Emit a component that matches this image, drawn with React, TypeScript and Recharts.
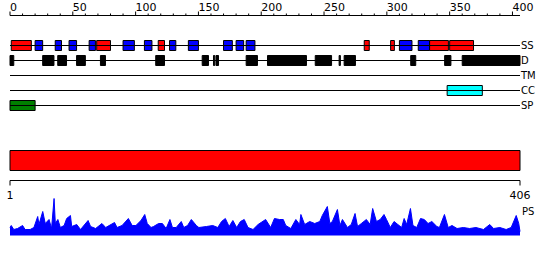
import { ComposedChart, AreaChart, Area, Line, XAxis, YAxis, ReferenceLine, ReferenceArea } from 'recharts';

const FONT = 'DejaVu Sans';

// protein length and ruler
const seqLength = 406;
const rulerTicks = [
  0, 10, 20, 30, 40, 50, 60, 70, 80, 90, 100, 110, 120, 130, 140, 150, 160, 170, 180, 190, 200,
  210, 220, 230, 240, 250, 260, 270, 280, 290, 300, 310, 320, 330, 340, 350, 360, 370, 380, 390, 400,
];
const lengthTicks = [1, 406];

const rowNames = ['SS', 'D', 'TM', 'CC', 'SP'];

// secondary structure: helix (red) and strand (blue)
const helix = [
  [1, 17], [69, 80], [118, 123], [282, 286], [303, 306], [334, 349], [350, 369],
];
const strand = [
  [20, 26], [36, 41], [47, 53], [63, 68], [90, 99], [107, 113], [127, 132], [142, 150],
  [170, 177], [180, 186], [188, 195], [310, 320], [325, 334],
];
// disorder
const disorder = [
  [0, 3], [26, 35], [38, 45], [53, 60], [72, 76], [116, 123], [153, 158], [162, 163],
  [164, 166], [188, 197], [205, 236], [243, 256], [262, 263], [266, 275], [319, 323],
  [346, 351], [360, 406],
];
const transmembrane: number[][] = [];
const coiledCoil = [[348, 376]];
const signalPeptide = [[0, 20]];

// PS profile
const psPos = [
  1, 2, 4, 7, 11, 13, 17, 20, 23, 24, 27, 29, 32, 34, 36, 37, 39, 41, 44, 46, 49, 50, 54, 57,
  63, 65, 69, 74, 77, 84, 86, 90, 95, 98, 101, 105, 108, 110, 113, 115, 119, 122, 125, 128,
  130, 133, 137, 139, 142, 145, 149, 151, 157, 162, 166, 169, 172, 175, 178, 181, 184, 187,
  190, 194, 198, 204, 208, 211, 215, 218, 220, 224, 228, 231, 232, 235, 239, 243, 247, 249,
  253, 255, 257, 261, 263, 265, 269, 272, 275, 277, 280, 284, 287, 289, 292, 295, 298, 300,
  303, 306, 309, 312, 314, 316, 319, 321, 324, 327, 330, 333, 336, 340, 342, 346, 349, 352,
  356, 361, 366, 371, 377, 382, 385, 390, 395, 399, 403, 405, 406,
];
const psVal = [
  8, 10, 6, 7, 10, 6, 6, 8, 19, 11, 24, 12, 16, 7, 37, 12, 16, 8, 10, 17, 20, 9, 11, 6,
  15, 9, 7, 12, 8, 13, 8, 10, 17, 10, 10, 15, 21, 12, 8, 9, 12, 12, 7, 16,
  8, 8, 14, 8, 10, 16, 10, 8, 9, 10, 8, 14, 17, 9, 15, 8, 14, 16,
  8, 6, 11, 16, 8, 17, 16, 16, 10, 7, 16, 11, 21, 11, 14, 12, 14, 20,
  29, 12, 14, 26, 10, 16, 8, 11, 22, 9, 12, 16, 11, 27, 14, 16, 21, 16,
  8, 14, 11, 8, 17, 11, 27, 10, 8, 17, 16, 12, 14, 9, 8, 21, 8, 10,
  7, 8, 7, 8, 6, 11, 7, 8, 6, 8, 20, 12, 4,
];

const featureRows = [
  { ranges: helix, row: 0, color: '#ff0000' },
  { ranges: strand, row: 0, color: '#0000ff' },
  { ranges: disorder, row: 1, color: '#000000' },
  { ranges: transmembrane, row: 2, color: '#ffff00' },
  { ranges: coiledCoil, row: 3, color: '#00ffff' },
  { ranges: signalPeptide, row: 4, color: '#008000' },
];

const psData = psPos.map((p, i) => ({ pos: p, ps: psVal[i] }));

const RulerTick = (props: any) => {
  const { x, y, payload } = props;
  const major = payload.value % 50 === 0;
  return (
    <g>
      <line x1={x} y1={y} x2={x} y2={y - (major ? 4 : 2)} stroke="#000" />
      {major && (
        <text x={x} y={y - 5} fontSize={11} fontFamily={FONT} textAnchor="start" fill="#000">
          {payload.value}
        </text>
      )}
    </g>
  );
};

const labelStyle = { fontSize: 10, fill: '#000', fontFamily: FONT };

export default function App() {
  return (
    <div style={{ position: 'absolute', left: 0, top: 0, width: 550, height: 260, background: '#fff' }}>
      {/* feature rows */}
      <div style={{ position: 'absolute', left: 0, top: 0 }}>
        <ComposedChart width={550} height={121} margin={{ top: 0.5, right: 30, bottom: 0.5, left: 10 }}>
          <XAxis
            xAxisId="r"
            dataKey="pos"
            type="number"
            orientation="top"
            domain={[0, seqLength]}
            ticks={rulerTicks}
            interval={0}
            height={15}
            tickSize={0}
            tickMargin={0}
            tickLine={false}
            axisLine={{ stroke: '#000' }}
            tick={<RulerTick />}
          />
          <YAxis yAxisId="r" type="number" domain={[0, 7]} reversed hide />
          {rowNames.map((name, i) => (
            <Line
              key={name}
              xAxisId="r"
              yAxisId="r"
              data={[{ pos: 0, row: i + 2 }, { pos: seqLength, row: i + 2 }]}
              dataKey="row"
              stroke="#000"
              strokeWidth={1}
              dot={false}
              activeDot={false}
              isAnimationActive={false}
            />
          ))}
          {rowNames.map((name, i) => (
            <ReferenceLine
              key={`l-${name}`}
              xAxisId="r"
              yAxisId="r"
              y={i + 2}
              stroke="none"
              label={{ value: name, position: 'right', offset: 1, ...labelStyle }}
            />
          ))}
          {featureRows.flatMap((f, k) =>
            f.ranges.map(([a, b], j) => (
              <ReferenceArea
                key={`${k}-${j}`}
                xAxisId="r"
                yAxisId="r"
                x1={a}
                x2={b}
                y1={f.row + 2 - 1 / 3}
                y2={f.row + 2 + 1 / 3}
                fill={f.color}
                fillOpacity={1}
                stroke="#000"
                strokeWidth={1}
              />
            ))
          )}
        </ComposedChart>
      </div>

      {/* full length bar */}
      <div style={{ position: 'absolute', left: 0, top: 140 }}>
        <ComposedChart width={550} height={71} margin={{ top: 0.5, right: 30, bottom: 0.5, left: 10 }}>
          <XAxis
            xAxisId="s"
            dataKey="pos"
            type="number"
            domain={[1, seqLength]}
            ticks={lengthTicks}
            interval={0}
            height={30}
            tickSize={5}
            tickMargin={6}
            stroke="#000"
            tickLine={{ stroke: '#000' }}
            axisLine={{ stroke: '#000' }}
            tick={{ fill: '#000', fontSize: 11, fontFamily: FONT }}
          />
          <YAxis yAxisId="s" type="number" domain={[0, 4]} hide />
          <Line
            xAxisId="s"
            yAxisId="s"
            data={lengthTicks.map((p) => ({ pos: p, mid: 2 }))}
            dataKey="mid"
            stroke="none"
            dot={false}
            activeDot={false}
            isAnimationActive={false}
          />
          <ReferenceArea
            xAxisId="s"
            yAxisId="s"
            x1={1}
            x2={seqLength}
            y1={1}
            y2={3}
            fill="#ff0000"
            fillOpacity={1}
            stroke="#000"
            strokeWidth={1}
          />
        </ComposedChart>
      </div>

      {/* PS profile */}
      <div style={{ position: 'absolute', left: 0, top: 195 }}>
        <AreaChart width={550} height={41} data={psData} margin={{ top: 0.5, right: 30, bottom: 0.5, left: 10 }}>
          <XAxis dataKey="pos" type="number" domain={[1, seqLength]} hide />
          <YAxis type="number" domain={[0, 40]} hide />
          <Area
            type="linear"
            dataKey="ps"
            stroke="#0000ff"
            strokeWidth={1}
            fill="#0000ff"
            fillOpacity={1}
            dot={false}
            activeDot={false}
            isAnimationActive={false}
          />
          <ReferenceLine
            y={24}
            stroke="none"
            label={{ value: 'PS', position: 'right', offset: 2, ...labelStyle }}
          />
        </AreaChart>
      </div>
    </div>
  );
}
